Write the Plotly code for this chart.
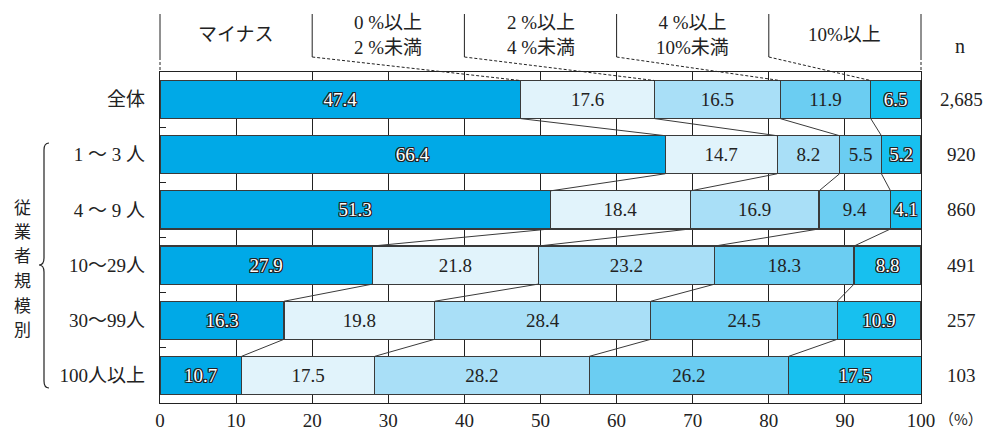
import plotly.graph_objects as go

# ---- data -------------------------------------------------------------
groups = ["全体", "1 ～ 3 人", "4 ～ 9 人", "10～29人", "30～99人", "100人以上"]
series_names = ["マイナス", "0%以上2%未満", "2%以上4%未満", "4%以上10%未満", "10%以上"]
header_labels = ["マイナス", "0 %以上<br>2 %未満", "2 %以上<br>4 %未満",
                 "4 %以上<br>10%未満", "10%以上"]
minus = [47.4, 66.4, 51.3, 27.9, 16.3, 10.7]
p0_2 = [17.6, 14.7, 18.4, 21.8, 19.8, 17.5]
p2_4 = [16.5, 8.2, 16.9, 23.2, 28.4, 28.2]
p4_10 = [11.9, 5.5, 9.4, 18.3, 24.5, 26.2]
p10 = [6.5, 5.2, 4.1, 8.8, 10.9, 17.5]
n_values = ["2,685", "920", "860", "491", "257", "103"]
x_ticks = [0, 10, 20, 30, 40, 50, 60, 70, 80, 90, 100]
group_title = "従業者規模別"

series = [minus, p0_2, p2_4, p4_10, p10]

# ---- style ------------------------------------------------------------
W, H = 985, 430
ML, MR, MT, MB = 160, 64, 72, 27
PW, PH = W - ML - MR, H - MT - MB
colors = ["#00A9E7", "#E1F3FB", "#A9DFF7", "#6BCDF2", "#17C0EF"]
outlined = [True, False, False, False, True]
FONT = "Liberation Serif, Noto Sans CJK JP, serif"
JP = "Noto Sans CJK JP, sans-serif"
INK = "#222222"
EDGE = "#3a3a3a"
BAR_W = 0.69
FS = 19
OUTLINE = ("-1px -1px 0 #222, 1px -1px 0 #222, -1px 1px 0 #222, 1px 1px 0 #222, "
           "0 -1px 0 #222, 0 1px 0 #222, -1px 0 0 #222, 1px 0 0 #222")


def px_x(px):
    return (px - ML) / PW


def px_y(py):
    return (H - MB - py) / PH


def row_top_paper(row):
    return 1 - (row + 0.5 - BAR_W / 2) / len(groups)


fig = go.Figure()

for name, vals, col, out in zip(series_names, series, colors, outlined):
    fig.add_trace(go.Bar(
        y=groups, x=vals, name=name, orientation="h",
        marker=dict(color=col, line=dict(color=EDGE, width=1.2)),
        width=BAR_W,
        text=[f"{v:.1f}" for v in vals],
        texttemplate="%{text}",
        textposition="inside", insidetextanchor="middle", textangle=0,
        textfont=dict(family=FONT, size=FS,
                      color="white" if out else INK,
                      shadow=OUTLINE if out else "none"),
        hoverinfo="skip",
    ))

# cumulative boundaries per row
cums = []
for r in range(len(groups)):
    acc, c = 0.0, []
    for s in series:
        acc += s[r]
        c.append(acc)
    cums.append(c)

shapes = []
# lines linking segment boundaries of neighbouring bars
for r in range(len(groups) - 1):
    for k in range(len(series) - 1):
        shapes.append(dict(type="line", xref="x", yref="y",
                           x0=cums[r][k], y0=r + BAR_W / 2,
                           x1=cums[r + 1][k], y1=r + 1 - BAR_W / 2,
                           line=dict(color=EDGE, width=1)))

# header brackets
head_top, head_bot = px_y(14), px_y(57)
bar_top0 = row_top_paper(0)
span = 100 / len(series)
for k in range(len(series) + 1):
    xp = k * span / 100
    shapes.append(dict(type="line", xref="paper", yref="paper",
                       x0=xp, x1=xp, y0=head_top, y1=head_bot,
                       line=dict(color=INK, width=1)))
    inner = 0 < k < len(series)
    shapes.append(dict(type="line", xref="paper", yref="paper",
                       x0=xp, y0=head_bot,
                       x1=cums[0][k - 1] / 100 if inner else xp,
                       y1=bar_top0 if inner else 1.0,
                       line=dict(color=INK, width=1, dash="3px,2px")))

# brace grouping the size categories
pts = [(49, 143), (44, 143), (44, 150), (44, 258), (44, 265), (39, 265),
       (44, 265), (44, 272), (44, 381), (44, 388), (49, 388)]
P = [(px_x(a), px_y(b)) for a, b in pts]
path = (f"M {P[0][0]} {P[0][1]} Q {P[1][0]} {P[1][1]} {P[2][0]} {P[2][1]} "
        f"L {P[3][0]} {P[3][1]} Q {P[4][0]} {P[4][1]} {P[5][0]} {P[5][1]} "
        f"Q {P[6][0]} {P[6][1]} {P[7][0]} {P[7][1]} "
        f"L {P[8][0]} {P[8][1]} Q {P[9][0]} {P[9][1]} {P[10][0]} {P[10][1]}")
shapes.append(dict(type="path", xref="paper", yref="paper", path=path,
                   line=dict(color=INK, width=1.2)))

annotations = []
for k, lab in enumerate(header_labels):
    annotations.append(dict(x=span * (k + 0.5), xref="x", y=px_y(35), yref="paper",
                            text=lab, showarrow=False, xanchor="center",
                            yanchor="middle",
                            font=dict(family=FONT, size=FS, color=INK)))
annotations.append(dict(x=px_x(960), xref="paper", y=px_y(46), yref="paper",
                        text="n", showarrow=False, xanchor="center",
                        yanchor="middle",
                        font=dict(family=FONT, size=FS + 1, color=INK)))
for r, nv in enumerate(n_values):
    annotations.append(dict(x=px_x(961), xref="paper", y=groups[r], yref="y",
                            text=nv, showarrow=False, xanchor="center",
                            yanchor="middle",
                            font=dict(family=FONT, size=FS, color=INK)))
# vertical group title, one character per line
for i, ch in enumerate(group_title):
    annotations.append(dict(x=px_x(22), xref="paper", y=px_y(206 + 24.5 * i),
                            yref="paper", text=ch, showarrow=False,
                            xanchor="center", yanchor="middle",
                            font=dict(family=JP, size=17, color=INK)))
annotations.append(dict(x=px_x(937), xref="paper", y=px_y(418), yref="paper",
                        text="（%）", showarrow=False, xanchor="left",
                        yanchor="middle",
                        font=dict(family=JP, size=15, color=INK)))

fig.update_layout(
    width=W, height=H,
    margin=dict(l=ML, r=MR, t=MT, b=MB, pad=0, autoexpand=False),
    barmode="stack",
    showlegend=False,
    plot_bgcolor="white", paper_bgcolor="white",
    uniformtext=dict(minsize=FS, mode="show"),
    shapes=shapes, annotations=annotations,
    xaxis=dict(range=[0, 100], tickvals=x_ticks, ticks="", automargin=False,
               showgrid=True, gridcolor=INK, gridwidth=1,
               showline=True, linecolor=INK, linewidth=1.2, mirror=True,
               zeroline=False, ticklabelstandoff=0,
               tickfont=dict(family=FONT, size=FS, color=INK)),
    yaxis=dict(categoryorder="array", categoryarray=groups, automargin=False,
               autorange=False, range=[len(groups) - 0.5, -0.5],
               showgrid=False, showline=True, linecolor=INK, linewidth=1.2,
               mirror=True, zeroline=False,
               tickson="boundaries", ticks="inside", ticklen=6,
               tickcolor=INK, ticklabelstandoff=10,
               tickfont=dict(family=FONT, size=FS, color=INK)),
)

fig.write_html("out.html")
